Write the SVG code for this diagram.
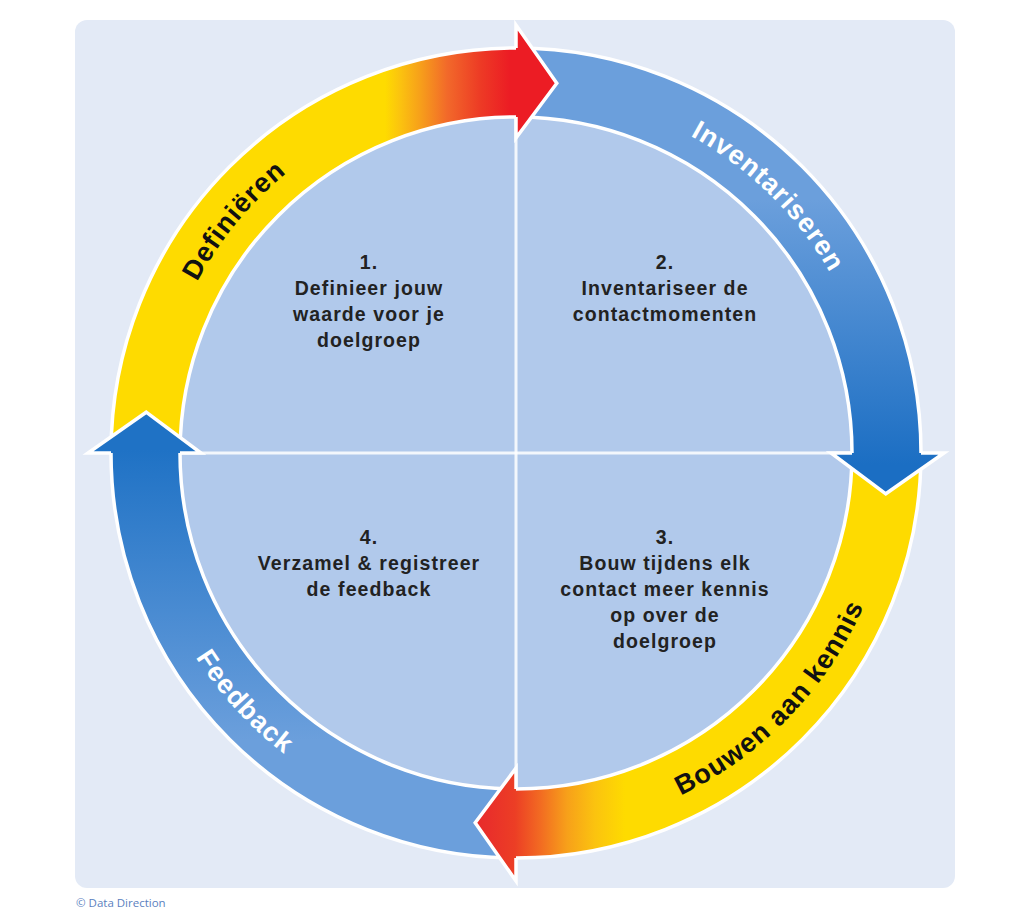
<svg xmlns="http://www.w3.org/2000/svg" width="1024" height="919" viewBox="0 0 1024 919">
  <defs>
    <style>
      .band { stroke: none; }
      .edge { fill: none; stroke: #ffffff; stroke-width: 3.5; }
      .cross { stroke: #ffffff; stroke-opacity: 0.85; stroke-width: 3; }
      .head { stroke: #ffffff; stroke-width: 3.5; stroke-linejoin: miter; }
      .ring-dark { font-family: "Liberation Sans", Arial, sans-serif; font-weight: bold; font-size: 27px; letter-spacing: 1px; fill: #111111; }
      .ring-light { font-family: "Liberation Sans", Arial, sans-serif; font-weight: bold; font-size: 27px; letter-spacing: 1px; fill: #ffffff; }
      .step { font-family: "Liberation Sans", Arial, sans-serif; font-weight: bold; font-size: 19.5px; letter-spacing: 1.1px; fill: #222222; text-anchor: middle; }
      .copy { font-family: "Open Sans", "Liberation Sans", sans-serif; font-size: 11.5px; fill: #5b7fc0; }
    </style>
    <linearGradient id="gDef" gradientUnits="userSpaceOnUse" x1="111" y1="0" x2="516" y2="0">
      <stop offset="0" stop-color="#fedb00"/>
      <stop offset="0.677" stop-color="#fedb00"/>
      <stop offset="0.714" stop-color="#fbc30f"/>
      <stop offset="0.763" stop-color="#f7a01a"/>
      <stop offset="0.830" stop-color="#f2692a"/>
      <stop offset="0.911" stop-color="#ed3b25"/>
      <stop offset="0.985" stop-color="#ec1c24"/>
      <stop offset="1" stop-color="#ec1c24"/>
    </linearGradient>
    <linearGradient id="gBou" gradientUnits="userSpaceOnUse" x1="470" y1="0" x2="921" y2="0">
      <stop offset="0" stop-color="#e8282a"/>
      <stop offset="0.044" stop-color="#e9302a"/>
      <stop offset="0.1" stop-color="#ec3e25"/>
      <stop offset="0.155" stop-color="#f26a22"/>
      <stop offset="0.215" stop-color="#f7a01a"/>
      <stop offset="0.277" stop-color="#fbc30f"/>
      <stop offset="0.344" stop-color="#fedb00"/>
      <stop offset="1" stop-color="#fedb00"/>
    </linearGradient>
    <linearGradient id="gInv" gradientUnits="userSpaceOnUse" x1="0" y1="200" x2="0" y2="465">
      <stop offset="0" stop-color="#6b9fdc"/>
      <stop offset="1" stop-color="#1b6ec3"/>
    </linearGradient>
    <linearGradient id="gFb" gradientUnits="userSpaceOnUse" x1="0" y1="740" x2="0" y2="450">
      <stop offset="0" stop-color="#6b9fdc"/>
      <stop offset="1" stop-color="#1f72c5"/>
    </linearGradient>
    <path id="pDef" d="M160.1,519 A362,362 0 0 1 512.8,91"/>
    <path id="pInv" d="M481.3,92.7 A362,362 0 0 1 876.9,481.4"/>
    <path id="pBou" d="M489.5,832.1 A380,380 0 0 0 893.9,413.3"/>
    <path id="pFb" d="M139.3,403.4 A380,380 0 0 0 532.6,832.6"/>
  </defs>

  <rect id="background" x="75" y="20" width="880" height="868" rx="12" ry="12" fill="#e3eaf6"/>

  <g id="inner-circle">
    <circle cx="516" cy="453" r="336" fill="#b1c9eb"/>
    <line class="cross" x1="516" y1="117" x2="516" y2="789"/>
    <line class="cross" x1="180" y1="453" x2="852" y2="453"/>
  </g>

  <g id="ring">
    <g id="band-definieren">
      <path class="band" fill="url(#gDef)" d="M111,453 A405,405 0 0 1 516,48 L516,117 A336,336 0 0 0 180,453 Z"/>
    </g>
    <g id="band-inventariseren">
      <path class="band" fill="url(#gInv)" d="M516,48 A405,405 0 0 1 921,453 L852,453 A336,336 0 0 0 516,117 Z"/>
    </g>
    <g id="band-bouwen">
      <path class="band" fill="url(#gBou)" d="M921,453 A405,405 0 0 1 516,858 L516,789 A336,336 0 0 0 852,453 Z"/>
    </g>
    <g id="band-feedback">
      <path class="band" fill="url(#gFb)" d="M516,858 A405,405 0 0 1 111,453 L180,453 A336,336 0 0 0 516,789 Z"/>
    </g>
    <circle class="edge" cx="516" cy="453" r="405"/>
    <circle class="edge" cx="516" cy="453" r="336"/>
  </g>

  <g id="connectors">
    <path class="head" fill="url(#gDef)" d="M516,48 L516,25 L556.8,83.2 L516,138 L516,117"/>
    <path class="head" fill="url(#gInv)" d="M921,453 L944,453 L885.8,493.8 L831,453 L852,453"/>
    <path class="head" fill="url(#gBou)" d="M516,858 L516,881 L475.2,822.8 L516,768 L516,789"/>
    <path class="head" fill="url(#gFb)" d="M111,453 L88,453 L146.2,412.2 L201,453 L180,453"/>
  </g>

  <g id="ring-labels">
    <text class="ring-dark"><textPath href="#pDef" startOffset="50%" text-anchor="middle">Definiëren</textPath></text>
    <text class="ring-light"><textPath href="#pInv" startOffset="50%" text-anchor="middle">Inventariseren</textPath></text>
    <text class="ring-dark"><textPath href="#pBou" startOffset="50%" text-anchor="middle">Bouwen aan kennis</textPath></text>
    <text class="ring-light"><textPath href="#pFb" startOffset="50%" text-anchor="middle">Feedback</textPath></text>
  </g>

  <g id="step-1">
    <text class="step" x="369" y="269">1.</text>
    <text class="step" x="369" y="295">Definieer jouw</text>
    <text class="step" x="369" y="321">waarde voor je</text>
    <text class="step" x="369" y="347">doelgroep</text>
  </g>
  <g id="step-2">
    <text class="step" x="665" y="269">2.</text>
    <text class="step" x="665" y="295">Inventariseer de</text>
    <text class="step" x="665" y="321">contactmomenten</text>
  </g>
  <g id="step-3">
    <text class="step" x="665" y="543.5">3.</text>
    <text class="step" x="665" y="569.5">Bouw tijdens elk</text>
    <text class="step" x="665" y="595.5">contact meer kennis</text>
    <text class="step" x="665" y="621.5">op over de</text>
    <text class="step" x="665" y="647.5">doelgroep</text>
  </g>
  <g id="step-4">
    <text class="step" x="369" y="543.5">4.</text>
    <text class="step" x="369" y="569.5">Verzamel &amp; registreer</text>
    <text class="step" x="369" y="595.5">de feedback</text>
  </g>

  <text class="copy" x="76" y="906.5">© Data Direction</text>
</svg>
